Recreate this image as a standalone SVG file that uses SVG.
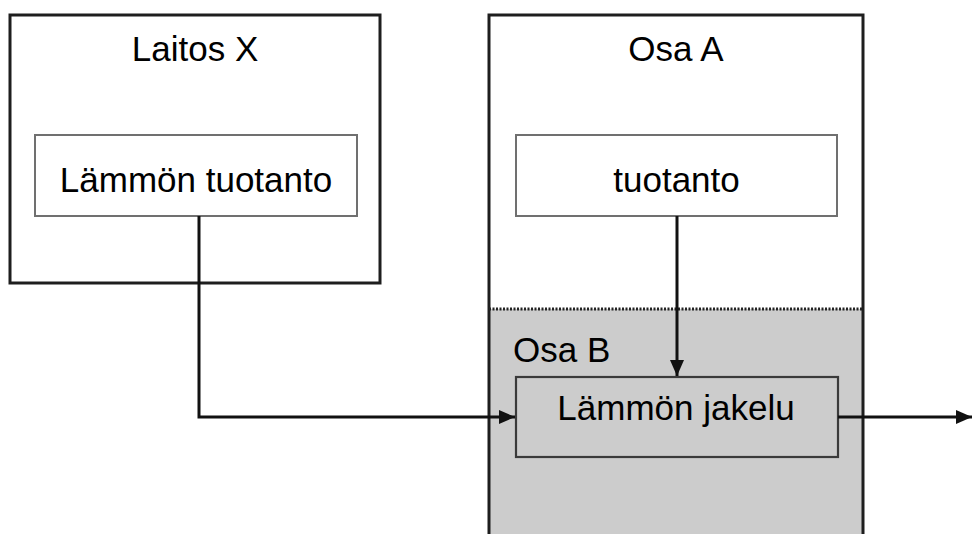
<svg xmlns="http://www.w3.org/2000/svg" width="972" height="534" viewBox="0 0 972 534">
<defs>
<style>
.outer{fill:none;stroke:#1e1e1e;stroke-width:3}
.inner{fill:#ffffff;stroke:#707070;stroke-width:2}
.innerg{fill:#cccccc;stroke:#3a3a3a;stroke-width:2.2}
.lbl{font-family:"Liberation Sans",Arial,sans-serif;font-size:35px;fill:#000}
.conn{fill:none;stroke:#111;stroke-width:3}
</style>
<marker id="ah" markerWidth="16" markerHeight="14" refX="16" refY="7" orient="auto" markerUnits="userSpaceOnUse">
<path d="M0,0 L16,7 L0,14 Z" fill="#111"/>
</marker>
</defs>
<rect width="972" height="534" fill="#ffffff"/>
<g id="osa-a">
<rect x="489" y="309" width="374" height="230" fill="#cccccc"/>
<path class="outer" d="M489,540 L489,15 L863,15 L863,540"/>
<line x1="489" y1="309" x2="863" y2="309" stroke="#222" stroke-width="3" stroke-dasharray="2,1.5"/>
<text class="lbl" x="676" y="61" text-anchor="middle">Osa A</text>
</g>
<g id="osa-b">
<text class="lbl" x="513" y="362">Osa B</text>
</g>
<g id="laitos-x">
<rect class="outer" x="10" y="15" width="370" height="268"/>
<text class="lbl" x="195" y="61" text-anchor="middle">Laitos X</text>
</g>
<g id="lammon-tuotanto">
<rect class="inner" x="35" y="135" width="322" height="81"/>
<text class="lbl" x="196" y="192" text-anchor="middle">Lämmön tuotanto</text>
</g>
<g id="tuotanto">
<rect class="inner" x="516" y="135" width="321" height="81"/>
<text class="lbl" x="676.5" y="192" text-anchor="middle">tuotanto</text>
</g>
<g id="lammon-jakelu">
<rect class="innerg" x="516" y="377" width="322" height="80"/>
<text class="lbl" x="676" y="420" text-anchor="middle">Lämmön jakelu</text>
</g>
<g id="connectors">
<path class="conn" d="M199,216 L199,417 L515,417" marker-end="url(#ah)"/>
<path class="conn" d="M677,216 L677,376" marker-end="url(#ah)"/>
<path class="conn" d="M838,417 L972,417" marker-end="url(#ah)"/>
</g>
</svg>
